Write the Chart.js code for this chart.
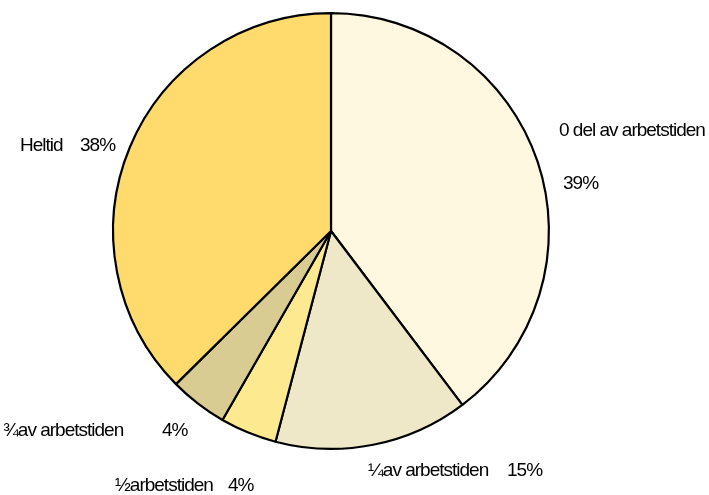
<!DOCTYPE html>
<html>
<head>
<meta charset="utf-8">
<script src="https://cdn.jsdelivr.net/npm/chart.js@4/dist/chart.umd.min.js"></script>
<style>
html,body{margin:0;padding:0;background:#fff;}
#c{display:block;}
</style>
</head>
<body>
<canvas id="c" width="709" height="495"></canvas>
<script>
const categories = ['0 del av arbetstiden', '¼ av arbetstiden', '½ arbetstiden', '¾ av arbetstiden', 'Heltid'];
const values = [39.7, 14.4, 4.2, 4.3, 37.4];
const percentLabels = ['39%', '15%', '4%', '4%', '38%'];
const colors = ['#FFF8E1', '#EFE8C8', '#FDE98F', '#D9CC93', '#FFDB6E'];

// label layout: [nameX, nameY, pctX, pctY]
const labelPos = [
  [559, 131, 563, 184],
  [368, 471, 507, 471],
  [115, 486, 228, 486],
  [3, 431, 162, 431],
  [20, 146, 80, 146]
];
const shortNames = ['0 del av arbetstiden', '¼av arbetstiden', '½arbetstiden', '¾av arbetstiden', 'Heltid'];

const labelPlugin = {
  id: 'labels',
  afterDraw(chart) {
    const ctx = chart.ctx;
    ctx.save();
    ctx.fillStyle = '#000';
    ctx.font = '19px "Liberation Sans", Arial, sans-serif';
    ctx.letterSpacing = '-1px';
    ctx.textBaseline = 'middle';
    ctx.textAlign = 'left';
    categories.forEach((c, i) => {
      const p = labelPos[i];
      ctx.fillText(shortNames[i], p[0], p[1]);
      ctx.fillText(percentLabels[i], p[2], p[3]);
    });
    ctx.restore();
  }
};

new Chart(document.getElementById('c'), {
  type: 'pie',
  data: {
    labels: categories,
    datasets: [{
      data: values,
      backgroundColor: colors,
      borderColor: '#000',
      borderWidth: 2.2,
      borderAlign: 'center'
    }]
  },
  options: {
    responsive: false,
    animation: false,
    layout: { padding: { left: 112, right: 159, top: 12, bottom: 45 } },
    plugins: {
      legend: { display: false },
      tooltip: { enabled: false }
    }
  },
  plugins: [labelPlugin]
});
</script>
</body>
</html>
